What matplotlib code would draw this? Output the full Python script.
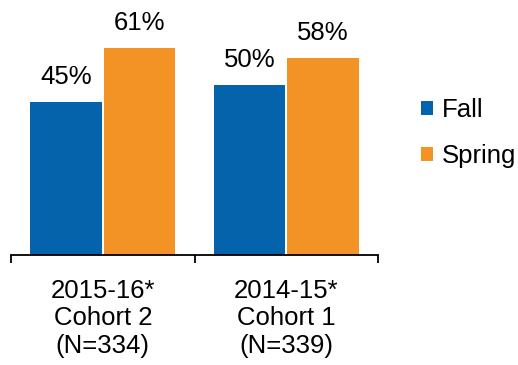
import numpy as np
import matplotlib.pyplot as plt

plt.rcParams['font.family'] = ['Liberation Sans', 'DejaVu Sans']

# cohort categories and percentages
groups = ['2015-16*\nCohort 2\n(N=334)', '2014-15*\nCohort 1\n(N=339)']
fall = [45, 50]
spring = [61, 58]

blue = '#0463AA'
orange = '#F39325'

fig = plt.figure(figsize=(5.18, 3.65), dpi=100)
ax = fig.add_axes([11/518, 110/365, 367/518, 255/365])

x = np.arange(len(groups))
w = 0.39
b1 = ax.bar(x - 0.2, fall, w, color=blue, label='Fall')
b2 = ax.bar(x + 0.2, spring, w, color=orange, label='Spring')

# value labels above each bar
for bars, vals in [(b1, fall), (b2, spring)]:
    for r, v in zip(bars, vals):
        ax.annotate(f'{v}%', (r.get_x() + r.get_width()/2, v),
                    xytext=(0, 13), textcoords='offset points',
                    ha='center', va='baseline', fontsize=18.5)

ax.set_xlim(-0.5, 1.5)
ax.set_ylim(0, 75)
ax.set_xticks(x)
ax.set_xticklabels(groups, fontsize=18.5, linespacing=1.2)
ax.set_xticks([-0.5, 0.5, 1.5], minor=True)
ax.tick_params(axis='x', which='major', length=0, pad=17)
ax.tick_params(axis='x', which='minor', length=6, width=1.3, direction='out')
ax.set_yticks([])
for s in ['top', 'right', 'left']:
    ax.spines[s].set_visible(False)
ax.spines['bottom'].set_linewidth(1.3)

fig.legend(handles=[b1, b2], loc='center left', bbox_to_anchor=(398/518, 1 - 133/365),
           frameon=False, fontsize=18.5, handlelength=0.45, handleheight=0.45,
           handletextpad=0.35, labelspacing=0.85)

fig.savefig('out.png', dpi=100)
